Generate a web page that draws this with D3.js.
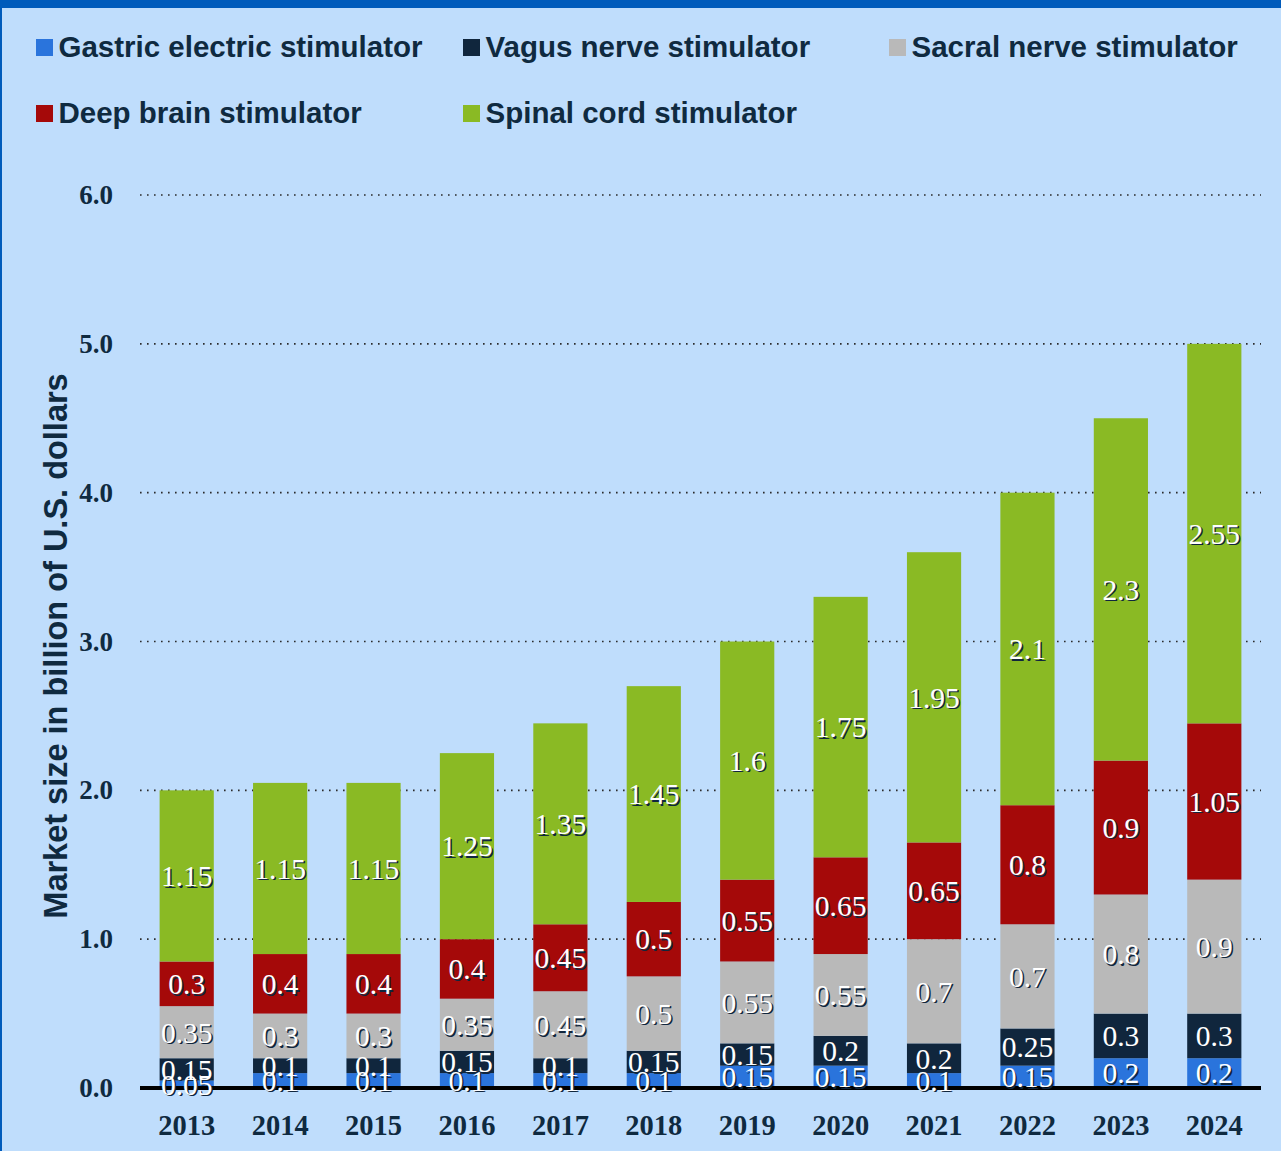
<!DOCTYPE html>
<html>
<head>
<meta charset="utf-8">
<script src="https://cdn.jsdelivr.net/npm/d3@7"></script>
<style>
  body { margin: 0; background: #bfddfc; }
  svg { display: block; }
</style>
</head>
<body>
<div id="chart"></div>
<script>
// data
const years = ['2013', '2014', '2015', '2016', '2017', '2018', '2019', '2020', '2021', '2022', '2023', '2024'];
const seriesNames = ['Gastric electric stimulator', 'Vagus nerve stimulator', 'Sacral nerve stimulator', 'Deep brain stimulator', 'Spinal cord stimulator'];
const gastric = [0.05, 0.1, 0.1, 0.1, 0.1, 0.1, 0.15, 0.15, 0.1, 0.15, 0.2, 0.2];
const vagus = [0.15, 0.1, 0.1, 0.15, 0.1, 0.15, 0.15, 0.2, 0.2, 0.25, 0.3, 0.3];
const sacral = [0.35, 0.3, 0.3, 0.35, 0.45, 0.5, 0.55, 0.55, 0.7, 0.7, 0.8, 0.9];
const deepBrain = [0.3, 0.4, 0.4, 0.4, 0.45, 0.5, 0.55, 0.65, 0.65, 0.8, 0.9, 1.05];
const spinal = [1.15, 1.15, 1.15, 1.25, 1.35, 1.45, 1.6, 1.75, 1.95, 2.1, 2.3, 2.55];
const yTicks = [0, 1, 2, 3, 4, 5, 6];

const colors = ['#2a74dc', '#10263d', '#b9b9b9', '#a50909', '#8aba24'];
const textColor = '#0f2a40';

const width = 1281;
const height = 1151;

const svg = d3.select('#chart')
  .append('svg')
  .attr('width', width)
  .attr('height', height);

// frame
svg.append('rect').attr('width', width).attr('height', height).attr('fill', '#bfddfc');
svg.append('rect').attr('width', width).attr('height', 8).attr('fill', '#005bbb');
svg.append('rect').attr('width', 2).attr('height', height).attr('fill', '#005bbb');

// table for stacking
const table = years.map((y, i) => ({
  year: y,
  s0: gastric[i], s1: vagus[i], s2: sacral[i], s3: deepBrain[i], s4: spinal[i]
}));
const keys = ['s0', 's1', 's2', 's3', 's4'];
const stacked = d3.stack().keys(keys)(table);

const x = d3.scaleBand()
  .domain(years)
  .range([140, 1261])
  .paddingInner(0.42)
  .paddingOuter(0.21);

const y = d3.scaleLinear()
  .domain([0, 6])
  .range([1088, 195]);

// gridlines
svg.append('g')
  .selectAll('line')
  .data(yTicks.filter(d => d > 0))
  .join('line')
  .attr('x1', 140)
  .attr('x2', 1261)
  .attr('y1', d => y(d))
  .attr('y2', d => y(d))
  .attr('stroke', '#2b2b2b')
  .attr('stroke-width', 1.6)
  .attr('stroke-dasharray', '1.6,5.4');

// y axis tick labels
const yAxis = svg.append('g')
  .attr('transform', 'translate(113,0)')
  .call(d3.axisLeft(y).tickValues(yTicks).tickFormat(d3.format('.1f')).tickSize(0).tickPadding(0));
yAxis.select('.domain').remove();
yAxis.selectAll('text')
  .attr('fill', textColor)
  .style('font-family', '"Liberation Serif", "Times New Roman", serif')
  .style('font-weight', 'bold')
  .style('font-size', '27px');

// bars
const layers = svg.append('g')
  .selectAll('g')
  .data(stacked)
  .join('g')
  .attr('fill', (d, i) => colors[i]);

layers.selectAll('rect')
  .data(d => d)
  .join('rect')
  .attr('x', d => x(d.data.year))
  .attr('width', x.bandwidth())
  .attr('y', d => y(d[1]))
  .attr('height', d => y(d[0]) - y(d[1]));

// baseline
svg.append('line')
  .attr('x1', 140)
  .attr('x2', 1261)
  .attr('y1', y(0))
  .attr('y2', y(0))
  .attr('stroke', '#000')
  .attr('stroke-width', 4);

// x axis labels
const xAxis = svg.append('g')
  .attr('transform', 'translate(0,1135)')
  .call(d3.axisBottom(x).tickSize(0).tickPadding(0));
xAxis.select('.domain').remove();
xAxis.selectAll('text')
  .attr('fill', textColor)
  .attr('y', 0)
  .attr('dy', 0)
  .style('font-family', '"Liberation Serif", "Times New Roman", serif')
  .style('font-weight', 'bold')
  .style('font-size', '28.5px');

// value labels: dark shadow then white text
const labelData = [];
stacked.forEach(layer => {
  layer.forEach(d => {
    labelData.push({ year: d.data.year, lo: d[0], hi: d[1], v: d[1] - d[0] });
  });
});
const fmt = v => String(+v.toFixed(2));

const labels = svg.append('g')
  .style('font-family', '"Liberation Serif", "Times New Roman", serif')
  .style('font-size', '29.5px')
  .attr('text-anchor', 'middle');

labels.selectAll('text.shadow')
  .data(labelData)
  .join('text')
  .attr('class', 'shadow')
  .attr('x', d => x(d.year) + x.bandwidth() / 2 + 1.5)
  .attr('y', d => y((d.lo + d.hi) / 2) + 1.5)
  .attr('dy', '0.35em')
  .attr('fill', '#10263d')
  .text(d => fmt(d.v));

labels.selectAll('text.value')
  .data(labelData)
  .join('text')
  .attr('class', 'value')
  .attr('x', d => x(d.year) + x.bandwidth() / 2)
  .attr('y', d => y((d.lo + d.hi) / 2))
  .attr('dy', '0.35em')
  .attr('fill', '#ffffff')
  .text(d => fmt(d.v));

// y axis title
svg.append('text')
  .attr('transform', 'translate(67,646) rotate(-90)')
  .attr('text-anchor', 'middle')
  .attr('fill', textColor)
  .style('font-family', '"Liberation Sans", Arial, sans-serif')
  .style('font-weight', 'bold')
  .style('font-size', '32.5px')
  .text('Market size in billion of U.S. dollars');

// legend
const legendPos = [[36, 39], [463, 39], [889, 39], [36, 105], [463, 105]];
const legend = svg.append('g')
  .selectAll('g')
  .data(seriesNames)
  .join('g')
  .attr('transform', (d, i) => 'translate(' + legendPos[i][0] + ',' + legendPos[i][1] + ')');

legend.append('rect')
  .attr('width', 17)
  .attr('height', 17)
  .attr('fill', (d, i) => colors[i]);

legend.append('text')
  .attr('x', 22.5)
  .attr('y', 18)
  .attr('fill', textColor)
  .style('font-family', '"Liberation Sans", Arial, sans-serif')
  .style('font-weight', 'bold')
  .style('font-size', '29.5px')
  .text(d => d);
</script>
</body>
</html>
